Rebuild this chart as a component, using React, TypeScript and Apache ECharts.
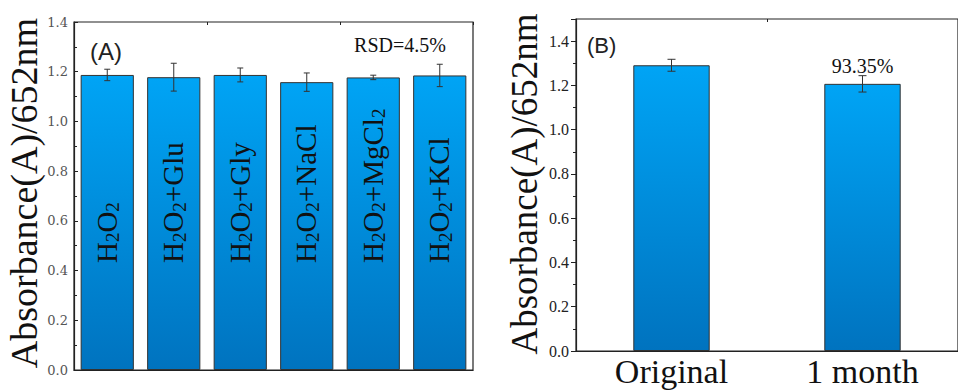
import React, { useEffect, useRef } from "react";
import * as echarts from "echarts";

// ---- Data (panel A) ----
const catsA = ["H2O2", "H2O2+Glu", "H2O2+Gly", "H2O2+NaCl", "H2O2+MgCl2", "H2O2+KCl"];
const valuesA = [1.187, 1.178, 1.187, 1.158, 1.177, 1.185];
const errorsA = [0.023, 0.056, 0.028, 0.037, 0.009, 0.045];
const rsdText = "RSD=4.5%";

// ---- Data (panel B) ----
const catsB = ["Original", "1 month"];
const valuesB = [1.291, 1.207];
const errorsB = [0.027, 0.037];
const annotB = ["", "93.35%"];

const yTitle = "Absorbance(A)/652nm";
const SERIF = "'Liberation Serif', 'Times New Roman', serif";

function toRich(s: string): string {
  let out = "";
  let buf = "";
  for (let i = 0; i < s.length; i++) {
    const c = s[i];
    if (/\d/.test(c) && i > 0 && /[A-Za-z]/.test(s[i - 1])) {
      if (buf) { out += `{n|${buf}}`; buf = ""; }
      out += `{s|${c}}`;
    } else buf += c;
  }
  if (buf) out += `{n|${buf}}`;
  return out;
}

const barGradient = () =>
  new echarts.graphic.LinearGradient(0, 0, 0, 1, [
    { offset: 0, color: "#00a4f5" },
    { offset: 1, color: "#0073bf" },
  ]);

function errRender(cap: number) {
  return (params: any, api: any) => {
    const i = api.value(0);
    const lo = api.coord([i, api.value(1)]);
    const hi = api.coord([i, api.value(2)]);
    const style = { stroke: "#333", lineWidth: 1 };
    return {
      type: "group",
      children: [
        { type: "line", shape: { x1: lo[0], y1: lo[1], x2: hi[0], y2: hi[1] }, style },
        { type: "line", shape: { x1: hi[0] - cap, y1: hi[1], x2: hi[0] + cap, y2: hi[1] }, style },
        { type: "line", shape: { x1: lo[0] - cap, y1: lo[1], x2: lo[0] + cap, y2: lo[1] }, style },
      ],
    };
  };
}

export default function App() {
  const ref = useRef<HTMLDivElement>(null);
  useEffect(() => {
    document.body.style.margin = "0";
    const chart = echarts.init(ref.current!, undefined, { renderer: "svg" });
    const frame = "#222";
    chart.setOption({
      animation: false,
      backgroundColor: "#fff",
      grid: [
        { left: 74, top: 22, width: 399, height: 348, show: true, borderColor: frame, borderWidth: 1.2, backgroundColor: "transparent" },
        { left: 576, top: 19, width: 393, height: 332, show: true, borderColor: frame, borderWidth: 1.2, backgroundColor: "transparent" },
      ],
      xAxis: [
        {
          gridIndex: 0, type: "category", data: catsA,
          axisLine: { show: true, lineStyle: { color: frame, width: 1.2 } },
          axisTick: { show: true, inside: true, alignWithLabel: true, length: 5, lineStyle: { color: frame } },
          axisLabel: { show: false },
        },
        {
          gridIndex: 0, type: "category", data: catsA,
          axisLine: { show: false },
          axisTick: { show: true, inside: true, length: 3, lineStyle: { color: frame } },
          axisLabel: { show: false },
        },
        {
          gridIndex: 1, type: "category", data: catsB,
          axisLine: { show: true, lineStyle: { color: frame, width: 1.2 } },
          axisTick: { show: true, inside: true, alignWithLabel: true, length: 5, lineStyle: { color: frame } },
          axisLabel: { fontFamily: SERIF, fontSize: 34, color: "#111", margin: 3 },
        },
        {
          gridIndex: 1, type: "category", data: catsB,
          axisLine: { show: false },
          axisTick: { show: true, inside: true, length: 3, lineStyle: { color: frame } },
          axisLabel: { show: false },
        },
      ],
      yAxis: [
        {
          gridIndex: 0, type: "value", min: 0, max: 1.4, interval: 0.2,
          splitLine: { show: false },
          axisLine: { show: true, lineStyle: { color: frame, width: 1.2 } },
          axisTick: { show: true, inside: true, length: 4, lineStyle: { color: frame } },
          minorTick: { show: true, splitNumber: 2, length: 3, lineStyle: { color: frame } },
          axisLabel: { fontFamily: "'DejaVu Serif', serif", fontSize: 13, color: "#555", margin: 6, formatter: (v: number) => v.toFixed(1) },
        },
        {
          gridIndex: 1, type: "value", min: 0, max: 1.5, interval: 0.2,
          splitLine: { show: false },
          axisLine: { show: true, lineStyle: { color: frame, width: 1.2 } },
          axisTick: { show: true, inside: false, length: 5, lineStyle: { color: frame } },
          minorTick: { show: true, splitNumber: 2, length: 3, lineStyle: { color: frame } },
          axisLabel: { fontFamily: SERIF, fontSize: 16, color: "#222", margin: 7, showMaxLabel: false, formatter: (v: number) => (v > 1.45 ? "" : v.toFixed(1)) },
        },
      ],
      series: [
        {
          type: "bar", xAxisIndex: 0, yAxisIndex: 0, data: valuesA,
          barCategoryGap: "20%",
          itemStyle: { color: barGradient(), borderColor: "#333", borderWidth: 1 },
          label: {
            show: true, position: "insideBottom", distance: 107, rotate: 90,
            align: "left", verticalAlign: "middle",
            formatter: (p: any) => toRich(catsA[p.dataIndex]),
            rich: {
              n: { fontFamily: SERIF, fontSize: 29, color: "#111", verticalAlign: "top", lineHeight: 30 },
              s: { fontFamily: SERIF, fontSize: 19, color: "#111", verticalAlign: "bottom", lineHeight: 19, padding: [12, 0, 0, 0] },
            },
          },
        },
        {
          type: "custom", xAxisIndex: 0, yAxisIndex: 0, z: 5,
          data: valuesA.map((v, i) => [i, v - errorsA[i], v + errorsA[i]]),
          renderItem: errRender(3),
        },
        {
          type: "bar", xAxisIndex: 2, yAxisIndex: 1, data: valuesB,
          barWidth: "40%",
          itemStyle: { color: barGradient(), borderColor: "#333", borderWidth: 1 },
          label: {
            show: true, position: "top", distance: 8,
            fontFamily: SERIF, fontSize: 20, color: "#111",
            formatter: (p: any) => annotB[p.dataIndex],
          },
        },
        {
          type: "custom", xAxisIndex: 2, yAxisIndex: 1, z: 5,
          data: valuesB.map((v, i) => [i, v - errorsB[i], v + errorsB[i]]),
          renderItem: errRender(4),
        },
      ],
      graphic: [
        { type: "text", x: 24, y: 193, rotation: Math.PI / 2, style: { text: yTitle, font: `38px ${SERIF}`, fill: "#111", align: "center", verticalAlign: "middle" } },
        { type: "text", x: 524, y: 184, rotation: Math.PI / 2, style: { text: yTitle, font: `37px ${SERIF}`, fill: "#111", align: "center", verticalAlign: "middle" } },
        { type: "text", x: 90, y: 51, style: { text: "(A)", font: "24px 'Liberation Sans', Arial, sans-serif", fill: "#222", align: "left", verticalAlign: "middle" } },
        { type: "text", x: 587, y: 45, style: { text: "(B)", font: "22px 'Liberation Sans', Arial, sans-serif", fill: "#222", align: "left", verticalAlign: "middle" } },
        { type: "text", x: 400, y: 45, style: { text: rsdText, font: `20px ${SERIF}`, fill: "#111", align: "center", verticalAlign: "middle" } },
      ],
    });
    return () => chart.dispose();
  }, []);
  return <div ref={ref} style={{ width: 958, height: 392 }} />;
}
